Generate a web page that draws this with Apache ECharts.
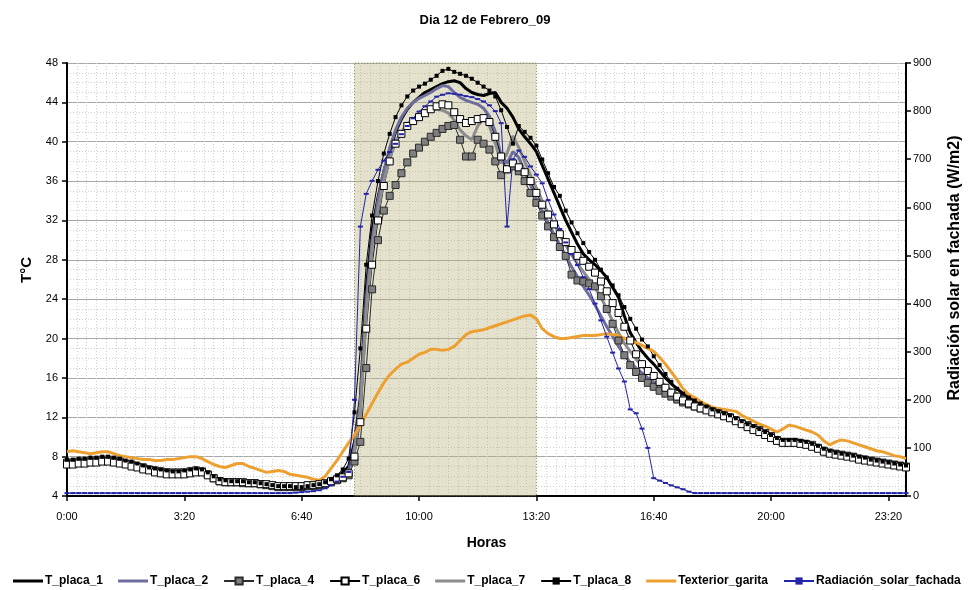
<!DOCTYPE html>
<html>
<head>
<meta charset="utf-8">
<title>Dia 12 de Febrero_09</title>
<script src="https://cdn.jsdelivr.net/npm/echarts@6/dist/echarts.min.js"></script>
<style>
  html, body { margin: 0; padding: 0; background: #fff; }
  #chart { width: 970px; height: 590px; }
</style>
</head>
<body>
<div id="chart"></div>
<script>
// Readings every 10 minutes, from 0:00 to 23:50 (one row per hour).
const TIME_STEP_MIN = 10;

const T_placa_1 = [
  7.6, 7.6, 7.7, 7.7, 7.8, 7.8,
  7.9, 7.9, 7.8, 7.7, 7.5, 7.4,
  7.2, 7.0, 6.9, 6.7, 6.6, 6.5,
  6.5, 6.5, 6.5, 6.6, 6.7, 6.6,
  6.3, 5.9, 5.6, 5.5, 5.5, 5.5,
  5.4, 5.4, 5.4, 5.3, 5.2, 5.1,
  5.0, 5.0, 4.9, 4.9, 4.9, 5.0,
  5.0, 5.1, 5.3, 5.6, 5.9, 6.4,
  7.0, 9.5, 14.0, 25.0, 31.0, 34.3,
  37.0, 39.0, 41.0, 42.3, 43.3, 44.0,
  44.5, 45.0, 45.3, 45.6, 45.9, 46.1,
  46.2, 46.0, 45.4, 45.0, 44.8, 44.7,
  44.9, 45.0, 44.0, 43.4, 42.5, 41.3,
  40.5, 39.8, 39.0, 37.6, 36.2, 34.8,
  33.4, 32.0, 30.8, 29.6, 28.6, 28.0,
  27.5, 26.9, 26.2, 25.2, 24.2, 22.3,
  20.6, 19.6, 18.7, 18.0, 17.4, 16.7,
  16.0, 15.4, 14.9, 14.4, 14.0, 13.6,
  13.3, 13.0, 12.8, 12.6, 12.4, 12.2,
  11.8, 11.5, 11.3, 11.0, 10.8, 10.5,
  10.2, 9.8, 9.6, 9.6, 9.6, 9.5,
  9.4, 9.3, 9.0, 8.7, 8.5, 8.4,
  8.3, 8.2, 8.1, 7.9, 7.8, 7.7,
  7.6, 7.5, 7.4, 7.3, 7.2, 7.1
];

const T_placa_2 = [
  7.5, 7.5, 7.6, 7.6, 7.7, 7.7,
  7.8, 7.8, 7.7, 7.6, 7.4, 7.3,
  7.1, 6.9, 6.8, 6.6, 6.5, 6.4,
  6.4, 6.4, 6.4, 6.5, 6.6, 6.5,
  6.2, 5.8, 5.5, 5.4, 5.4, 5.4,
  5.3, 5.3, 5.3, 5.2, 5.1, 5.0,
  4.9, 4.8, 4.8, 4.7, 4.7, 4.8,
  4.8, 4.9, 5.1, 5.3, 5.6, 6.0,
  6.5, 9.0, 13.5, 24.0, 30.0, 34.0,
  37.0, 39.4, 41.2, 42.5, 43.4, 44.0,
  44.4, 44.7, 45.0, 45.4, 45.7, 45.6,
  45.0, 44.5, 44.2, 44.0, 43.8, 43.4,
  42.6, 41.0, 38.6, 37.8, 39.0, 38.4,
  37.0, 35.6, 34.2, 33.0, 31.8, 30.6,
  29.5, 28.4, 27.3, 26.3, 25.3, 24.4,
  23.4, 22.3, 21.2, 20.2, 19.2, 18.3,
  17.6, 17.0, 16.5, 16.0, 15.6, 15.2,
  14.8, 14.4, 14.0, 13.7, 13.4, 13.2,
  13.0, 12.8, 12.6, 12.4, 12.2, 12.0,
  11.7, 11.4, 11.1, 10.9, 10.6, 10.3,
  10.0, 9.7, 9.5, 9.5, 9.5, 9.4,
  9.3, 9.1, 8.9, 8.6, 8.4, 8.3,
  8.2, 8.1, 8.0, 7.8, 7.7, 7.6,
  7.5, 7.4, 7.3, 7.2, 7.1, 7.0
];

const T_placa_4 = [
  7.4, 7.4, 7.5, 7.5, 7.6, 7.6,
  7.7, 7.7, 7.6, 7.5, 7.3, 7.2,
  7.0, 6.9, 6.7, 6.6, 6.5, 6.4,
  6.4, 6.4, 6.4, 6.5, 6.6, 6.5,
  6.2, 5.8, 5.5, 5.4, 5.4, 5.4,
  5.3, 5.3, 5.3, 5.2, 5.1, 5.0,
  4.9, 4.9, 4.9, 4.9, 4.9, 5.0,
  5.0, 5.1, 5.2, 5.4, 5.6, 5.8,
  6.1, 7.5, 9.5, 17.0, 25.0, 30.0,
  33.0, 34.5, 35.6, 36.8, 37.9, 38.8,
  39.4, 40.0, 40.5, 40.9, 41.3, 41.6,
  41.7, 40.2, 38.5, 38.5, 40.2, 39.8,
  39.2, 38.0, 36.6, 37.2, 37.5, 37.0,
  36.0, 34.8, 33.8, 32.5, 31.4, 30.3,
  29.3, 28.4, 26.5, 25.9, 25.8, 25.6,
  25.3, 24.3, 23.0, 21.5, 19.8, 18.3,
  17.3, 16.6, 16.0, 15.5, 15.1, 14.7,
  14.4, 14.1, 13.8, 13.5, 13.3, 13.1,
  12.9, 12.8, 12.6, 12.4, 12.2, 12.0,
  11.7, 11.4, 11.2, 10.9, 10.7, 10.4,
  10.1, 9.7, 9.5, 9.5, 9.5, 9.4,
  9.3, 9.2, 8.9, 8.6, 8.4, 8.3,
  8.2, 8.1, 8.0, 7.8, 7.7, 7.6,
  7.5, 7.4, 7.3, 7.2, 7.1, 7.0
];

const T_placa_6 = [
  7.2, 7.2, 7.3, 7.3, 7.4, 7.4,
  7.5, 7.5, 7.4, 7.3, 7.2, 7.0,
  6.9, 6.7, 6.6, 6.4, 6.3, 6.2,
  6.2, 6.2, 6.2, 6.3, 6.4, 6.4,
  6.1, 5.8, 5.5, 5.4, 5.4, 5.4,
  5.4, 5.3, 5.3, 5.2, 5.2, 5.1,
  5.0, 5.0, 5.0, 5.0, 5.0, 5.1,
  5.1, 5.2, 5.3, 5.5, 5.7, 5.9,
  6.3, 8.0, 11.5, 21.0, 27.5, 32.0,
  35.5, 38.0, 39.8, 40.8, 41.6, 42.1,
  42.5, 42.9, 43.3, 43.6, 43.8, 43.7,
  43.0, 42.3, 41.9, 42.1, 42.3, 42.4,
  42.0, 40.5, 38.5, 37.2, 37.8, 37.4,
  36.9, 36.0, 34.8, 33.6, 32.6, 31.6,
  30.6, 29.8, 29.0, 28.4, 27.9, 27.3,
  26.7, 25.8, 24.8, 23.6, 22.6, 21.2,
  19.8, 18.4, 17.4, 16.7, 16.2, 15.6,
  15.0, 14.5, 14.1, 13.7, 13.4, 13.1,
  12.9, 12.7, 12.5, 12.3, 12.1, 11.9,
  11.6, 11.3, 11.0, 10.7, 10.5, 10.2,
  9.9, 9.6, 9.4, 9.4, 9.4, 9.3,
  9.2, 9.0, 8.8, 8.5, 8.3, 8.2,
  8.1, 8.0, 7.9, 7.7, 7.6, 7.5,
  7.4, 7.3, 7.2, 7.1, 7.0, 6.9
];

const T_placa_7 = [
  7.5, 7.5, 7.6, 7.6, 7.7, 7.7,
  7.8, 7.8, 7.7, 7.6, 7.4, 7.3,
  7.1, 6.9, 6.8, 6.6, 6.5, 6.4,
  6.4, 6.4, 6.4, 6.5, 6.6, 6.5,
  6.2, 5.8, 5.5, 5.4, 5.4, 5.4,
  5.3, 5.3, 5.3, 5.2, 5.1, 5.0,
  4.9, 4.9, 4.8, 4.8, 4.8, 4.9,
  4.9, 5.0, 5.2, 5.4, 5.7, 6.1,
  6.6, 8.5, 12.5, 22.5, 29.0, 33.0,
  36.0, 38.3, 40.0, 41.0, 41.8, 42.3,
  42.7, 43.0, 43.2, 43.3, 43.2, 42.9,
  42.2, 41.2, 40.6, 40.2, 41.6, 42.3,
  41.6, 39.8, 37.8, 38.8, 40.6, 39.4,
  38.0, 36.6, 35.3, 34.0, 32.8, 31.6,
  30.5, 29.5, 28.5, 27.6, 26.8, 26.0,
  25.2, 24.2, 23.0, 21.8, 20.6, 19.5,
  18.7, 17.9, 17.2, 16.7, 16.2, 15.7,
  15.2, 14.8, 14.4, 14.0, 13.7, 13.4,
  13.2, 12.9, 12.7, 12.5, 12.3, 12.1,
  11.8, 11.5, 11.2, 11.0, 10.7, 10.4,
  10.1, 9.8, 9.6, 9.6, 9.6, 9.5,
  9.4, 9.2, 9.0, 8.7, 8.5, 8.4,
  8.3, 8.1, 8.0, 7.9, 7.8, 7.7,
  7.6, 7.5, 7.4, 7.3, 7.2, 7.1
];

const T_placa_8 = [
  7.7, 7.7, 7.8, 7.8, 7.9, 7.9,
  8.0, 8.0, 7.9, 7.8, 7.6, 7.5,
  7.3, 7.1, 6.9, 6.8, 6.7, 6.6,
  6.5, 6.5, 6.6, 6.7, 6.8, 6.7,
  6.4, 6.0, 5.7, 5.6, 5.5, 5.5,
  5.5, 5.4, 5.4, 5.3, 5.2, 5.1,
  5.0, 5.0, 5.0, 4.9, 4.9, 5.0,
  5.1, 5.2, 5.4, 5.7, 6.1, 6.7,
  7.8, 12.5, 19.0, 27.5, 32.5, 36.0,
  38.8, 40.8, 42.5, 43.7, 44.6, 45.2,
  45.6, 45.9, 46.3, 46.7, 47.2, 47.4,
  47.1, 46.9, 46.7, 46.4, 46.0, 45.6,
  45.2, 44.6, 43.2, 41.5, 39.8, 41.6,
  41.0, 40.4, 39.6, 38.2, 36.8, 35.4,
  34.5, 33.0, 31.8, 30.7, 29.7, 28.8,
  28.0, 27.0, 26.2, 25.4, 24.4, 23.2,
  22.0, 21.0, 19.9, 19.2, 18.2, 17.3,
  16.4, 15.6, 14.9, 14.4, 14.0, 13.7,
  13.4, 13.1, 12.8, 12.6, 12.4, 12.2,
  11.9, 11.6, 11.3, 11.1, 10.8, 10.5,
  10.2, 9.9, 9.7, 9.7, 9.7, 9.6,
  9.5, 9.3, 9.1, 8.8, 8.6, 8.4,
  8.3, 8.2, 8.1, 8.0, 7.9, 7.7,
  7.6, 7.5, 7.4, 7.3, 7.2, 7.1
];

const Texterior_garita = [
  8.5, 8.6, 8.5, 8.4, 8.3, 8.4,
  8.5, 8.5, 8.3, 8.1, 8.0, 7.9,
  7.8, 7.7, 7.7, 7.6, 7.6, 7.7,
  7.7, 7.8, 7.9, 8.0, 8.0, 7.8,
  7.5, 7.2, 7.0, 6.9, 7.1, 7.3,
  7.3, 7.0, 6.8, 6.6, 6.4, 6.5,
  6.6, 6.5, 6.2, 6.1, 6.0, 5.9,
  5.7, 5.6, 6.0, 6.8, 7.6, 8.5,
  9.4, 10.2, 11.2, 12.3, 13.4, 14.5,
  15.5, 16.3, 16.9, 17.4, 17.6, 18.0,
  18.4, 18.6, 18.9, 18.9, 18.8, 18.9,
  19.2, 19.8, 20.4, 20.7, 20.8, 20.9,
  21.1, 21.3, 21.5, 21.7, 21.9, 22.1,
  22.3, 22.4, 22.0, 21.0, 20.5, 20.2,
  20.0, 20.0, 20.1, 20.2, 20.3, 20.3,
  20.3, 20.4, 20.5, 20.4, 20.3, 20.0,
  19.8, 19.6, 19.3, 19.0, 18.7, 18.1,
  17.4, 16.6, 15.8, 14.9, 14.3, 14.0,
  13.6, 13.3, 13.0, 12.9, 12.8, 12.7,
  12.6, 12.2, 11.9, 11.6, 11.3, 11.1,
  10.8, 10.5, 10.8, 11.2, 11.1, 10.9,
  10.7, 10.5, 10.2, 9.6, 9.2, 9.5,
  9.7, 9.6, 9.4, 9.2, 9.0, 8.8,
  8.6, 8.5, 8.3, 8.1, 8.0, 7.8
];

// W/m2 on the facade
const Radiacion_solar_fachada = [
  6, 6, 6, 6, 6, 6,
  6, 6, 6, 6, 6, 6,
  6, 6, 6, 6, 6, 6,
  6, 6, 6, 6, 6, 6,
  6, 6, 6, 6, 6, 6,
  6, 6, 6, 6, 6, 6,
  6, 6, 6, 7, 8, 9,
  10, 12, 16, 22, 30, 40,
  50, 200, 560, 628, 655, 678,
  697, 715, 732, 752, 769, 785,
  799, 810, 820, 830, 834, 837,
  836, 834, 831, 829, 825, 820,
  812, 800, 775, 560, 700, 718,
  705, 685, 668, 650, 615, 585,
  555, 527, 503, 480, 455, 430,
  400, 365, 331, 298, 265, 238,
  180, 172, 140, 100, 37, 32,
  27, 22, 18, 14, 9, 6,
  6, 6, 6, 6, 6, 6,
  6, 6, 6, 6, 6, 6,
  6, 6, 6, 6, 6, 6,
  6, 6, 6, 6, 6, 6,
  6, 6, 6, 6, 6, 6,
  6, 6, 6, 6, 6, 6
];

// Shaded interval (minutes after midnight)
const shadeStart = 490;
const shadeEnd = 800;

const legendNames = ['T_placa_1', 'T_placa_2', 'T_placa_4', 'T_placa_6', 'T_placa_7', 'T_placa_8', 'Texterior_garita', 'Radiación_solar_fachada'];
// Plain-line series get a bar icon in the legend instead of a marker
const plainLines = ['T_placa_1', 'T_placa_2', 'T_placa_7', 'Texterior_garita'];
const BAR_ICON = 'path://M0,0L30,0L30,3L0,3Z';

const minutes = T_placa_1.map((_, i) => i * TIME_STEP_MIN);
const pairs = arr => arr.map((v, i) => [minutes[i], v]);
const hhmm = m => Math.floor(m / 60) + ':' + String(m % 60).padStart(2, '0');

const FONT = "'Liberation Sans', Arial, sans-serif";

function lineSeries(name, values, opts) {
  return Object.assign({
    name: name,
    type: 'line',
    data: pairs(values),
    symbol: 'none',
    smooth: false,
    animation: false,
    emphasis: { disabled: true }
  }, opts);
}

const chart = echarts.init(document.getElementById('chart'), null, { renderer: 'canvas' });

chart.setOption({
  animation: false,
  backgroundColor: '#ffffff',
  title: {
    text: 'Dia 12 de Febrero_09',
    left: 'center',
    top: 9,
    textStyle: { fontFamily: FONT, fontSize: 13, fontWeight: 'bold', color: '#000' }
  },
  legend: {
    data: legendNames.map(n => plainLines.includes(n) ? { name: n, icon: BAR_ICON } : { name: n }),
    left: 8,
    top: 570,
    itemGap: 15,
    itemWidth: 30,
    itemHeight: 9,
    symbolKeepAspect: true,
    selectedMode: false,
    textStyle: { fontFamily: FONT, fontSize: 12, fontWeight: 'bold', color: '#000', padding: [0, 0, 0, -3] }
  },
  grid: { left: 67, right: 64, top: 63, bottom: 94, containLabel: false },
  xAxis: {
    type: 'value',
    min: 0,
    max: 1430,
    interval: 200,
    axisLine: { show: true, onZero: false, lineStyle: { color: '#000', width: 2 } },
    axisTick: { show: true, length: 5, lineStyle: { color: '#000', width: 1.5 } },
    axisLabel: { formatter: v => hhmm(v), fontFamily: FONT, fontSize: 11, color: '#000', margin: 15, showMaxLabel: false },
    splitLine: { show: false },
    minorTick: { show: false, splitNumber: 12 },
    minorSplitLine: { show: true, lineStyle: { color: '#cfcfcf', type: [1, 2], width: 1 } },
    name: 'Horas',
    nameLocation: 'middle',
    nameGap: 40,
    nameTextStyle: { fontFamily: FONT, fontSize: 14, fontWeight: 'bold', color: '#000' }
  },
  yAxis: [
    {
      type: 'value',
      min: 4,
      max: 48,
      interval: 4,
      axisLine: { show: true, lineStyle: { color: '#000', width: 2 } },
      axisTick: { show: true, length: 5, lineStyle: { color: '#000', width: 1.5 } },
      axisLabel: { fontFamily: FONT, fontSize: 11, color: '#000', margin: 9 },
      splitLine: { show: true, lineStyle: { color: '#a8a8a8', width: 1 } },
      minorTick: { show: false, splitNumber: 4 },
      minorSplitLine: { show: true, lineStyle: { color: '#cfcfcf', type: [1, 2], width: 1 } }
    },
    {
      type: 'value',
      min: 0,
      max: 900,
      interval: 100,
      position: 'right',
      axisLine: { show: true, lineStyle: { color: '#000', width: 2 } },
      axisTick: { show: true, length: 5, lineStyle: { color: '#000', width: 1.5 } },
      axisLabel: { fontFamily: FONT, fontSize: 11, color: '#000', margin: 7 },
      splitLine: { show: false }
    }
  ],
  graphic: [
    {
      type: 'text',
      x: 27, y: 270,
      rotation: Math.PI / 2,
      style: { text: 'T°C', font: "bold 15px 'Liberation Sans', Arial, sans-serif", fill: '#000', align: 'center', verticalAlign: 'middle' }
    },
    {
      type: 'text',
      x: 955, y: 268,
      rotation: Math.PI / 2,
      style: { text: 'Radiación solar en fachada (W/m2)', font: "bold 16px 'Liberation Sans', Arial, sans-serif", fill: '#000', align: 'center', verticalAlign: 'middle' }
    }
  ],
  series: [
    lineSeries('T_placa_1', T_placa_1, {
      color: '#000',
      lineStyle: { color: '#000', width: 3 },
      z: 3,
      markArea: {
        silent: true,
        itemStyle: { color: 'rgba(185,180,120,0.38)', borderColor: '#7d7d55', borderWidth: 1, borderType: [1, 2] },
        data: [[{ xAxis: shadeStart }, { xAxis: shadeEnd }]]
      }
    }),
    lineSeries('T_placa_2', T_placa_2, {
      color: '#6e6e9e',
      lineStyle: { color: '#6e6e9e', width: 3 },
      z: 3
    }),
    lineSeries('T_placa_4', T_placa_4, {
      color: '#7f7f7f',
      symbol: 'rect',
      symbolSize: 7,
      showSymbol: true,
      itemStyle: { color: '#7f7f7f', borderColor: '#2b2b2b', borderWidth: 1 },
      lineStyle: { color: '#2b2b2b', width: 1 },
      z: 3
    }),
    lineSeries('T_placa_6', T_placa_6, {
      color: '#ffffff',
      symbol: 'rect',
      symbolSize: 7,
      showSymbol: true,
      itemStyle: { color: '#ffffff', borderColor: '#000', borderWidth: 1 },
      lineStyle: { color: '#000', width: 1 },
      z: 3
    }),
    lineSeries('T_placa_7', T_placa_7, {
      color: '#8c8c8c',
      lineStyle: { color: '#8c8c8c', width: 3 },
      z: 3
    }),
    lineSeries('T_placa_8', T_placa_8, {
      color: '#000',
      symbol: 'rect',
      symbolSize: 4,
      showSymbol: true,
      itemStyle: { color: '#000' },
      lineStyle: { color: '#000', width: 1 },
      z: 3
    }),
    lineSeries('Texterior_garita', Texterior_garita, {
      color: '#eda030',
      lineStyle: { color: '#eda030', width: 3 },
      z: 3
    }),
    lineSeries('Radiación_solar_fachada', Radiacion_solar_fachada, {
      yAxisIndex: 1,
      color: '#2424a8',
      symbol: 'rect',
      symbolSize: [5, 2],
      showSymbol: true,
      itemStyle: { color: '#2424a8' },
      lineStyle: { color: '#2424a8', width: 1 },
      z: 3
    })
  ]
});
</script>
</body>
</html>
